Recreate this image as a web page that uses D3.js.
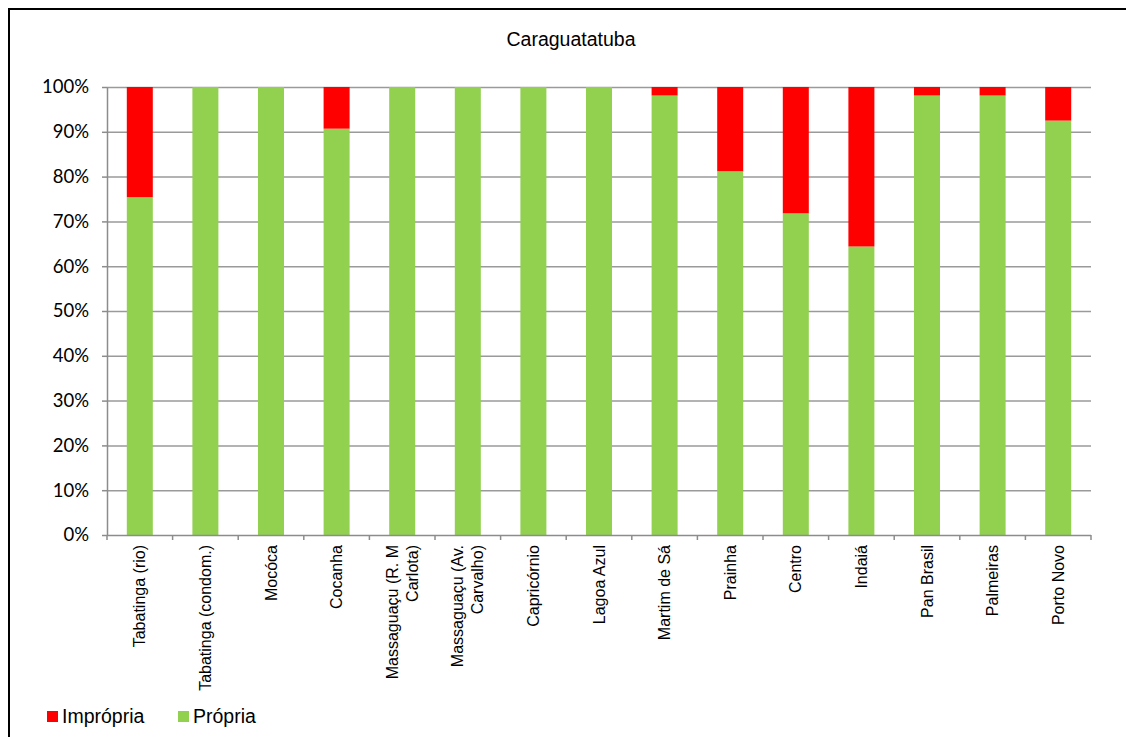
<!DOCTYPE html>
<html>
<head>
<meta charset="utf-8">
<script src="https://cdn.jsdelivr.net/npm/d3@7"></script>
<style>
  body { margin: 0; background: #fff; }
  svg { display: block; }
</style>
</head>
<body>
<svg width="1126" height="737"></svg>
<script>
const categories = [
  ["Tabatinga (rio)"],
  ["Tabatinga (condom.)"],
  ["Mocóca"],
  ["Cocanha"],
  ["Massaguaçu (R. M", "Carlota)"],
  ["Massaguaçu (Av.", "Carvalho)"],
  ["Capricórnio"],
  ["Lagoa Azul"],
  ["Martim de Sá"],
  ["Prainha"],
  ["Centro"],
  ["Indaiá"],
  ["Pan Brasil"],
  ["Palmeiras"],
  ["Porto Novo"],
];
const propria = [75.4, 100, 100, 90.7, 100, 100, 100, 100, 98.1, 81.2, 71.8, 64.4, 98.1, 98.1, 92.5];
const impropria = propria.map((v) => 100 - v);
const yTicks = [0, 10, 20, 30, 40, 50, 60, 70, 80, 90, 100];
const seriesNames = ["Imprópria", "Própria"];

const svg = d3.select("svg");
const plotLeft = 107, plotRight = 1091, plotTop = 87, plotBottom = 535;

// chart frame (only top and left edges visible)
svg.append("line").attr("x1", 9).attr("x2", 1126).attr("y1", 9).attr("y2", 9)
  .attr("stroke", "#000").attr("stroke-width", 2);
svg.append("line").attr("x1", 9).attr("x2", 9).attr("y1", 8).attr("y2", 737)
  .attr("stroke", "#000").attr("stroke-width", 2);

svg.append("text")
  .attr("x", 571).attr("y", 46)
  .attr("text-anchor", "middle")
  .style("font-family", "Liberation Sans, Arial, sans-serif")
  .style("font-size", "19.5px")
  .text("Caraguatatuba");

const xb = d3.scaleBand().domain(d3.range(categories.length)).range([plotLeft, plotRight]);
const y = d3.scaleLinear().domain([0, 100]).range([plotBottom, plotTop]);
const barW = 26;

// gridlines
svg.append("g").selectAll("line").data(yTicks.filter((t) => t > 0)).join("line")
  .attr("x1", plotLeft).attr("x2", plotRight)
  .attr("y1", (d) => y(d) + 0.5).attr("y2", (d) => y(d) + 0.5)
  .attr("stroke", "#9a9a9a").attr("stroke-width", 1.5);

// bars
const g = svg.append("g");
g.selectAll(".prop").data(propria).join("rect")
  .attr("x", (d, i) => xb(i) + xb.bandwidth() / 2 - barW / 2)
  .attr("width", barW)
  .attr("y", (d) => y(d))
  .attr("height", (d) => y(0) - y(d))
  .attr("fill", "#92d050");
g.selectAll(".improp").data(impropria).join("rect")
  .attr("x", (d, i) => xb(i) + xb.bandwidth() / 2 - barW / 2)
  .attr("width", barW)
  .attr("y", (d, i) => y(propria[i] + d))
  .attr("height", (d) => y(0) - y(d))
  .attr("fill", "#ff0000");

// y axis
const yAxis = svg.append("g").attr("transform", `translate(${plotLeft},0)`)
  .call(d3.axisLeft(y).tickValues(yTicks).tickFormat((d) => d + "%").tickSize(5).tickSizeOuter(0));
yAxis.select(".domain").attr("stroke", "#8c8c8c").attr("stroke-width", 1.5);
yAxis.selectAll(".tick line").attr("stroke", "#8c8c8c").attr("stroke-width", 1.5);
yAxis.selectAll("text")
  .attr("x", -18)
  .attr("fill", "#000")
  .style("font-family", "Lato, 'Open Sans', sans-serif")
  .style("font-size", "18.5px");

// x axis
const xAxisG = svg.append("g").attr("transform", `translate(0,${plotBottom})`);
xAxisG.append("line").attr("x1", plotLeft).attr("x2", plotRight).attr("y1", 0.5).attr("y2", 0.5)
  .attr("stroke", "#8c8c8c").attr("stroke-width", 1.5);
xAxisG.selectAll(".xt").data(d3.range(categories.length + 1)).join("line")
  .attr("x1", (d) => plotLeft + d * xb.step()).attr("x2", (d) => plotLeft + d * xb.step())
  .attr("y1", 0).attr("y2", 5)
  .attr("stroke", "#8c8c8c").attr("stroke-width", 1.5);

const labels = xAxisG.selectAll(".xl").data(categories).join("text")
  .attr("transform", (d, i) => `translate(${xb(i) + xb.bandwidth() / 2},10) rotate(-90)`)
  .attr("text-anchor", "end")
  .style("font-family", "Liberation Sans, Arial, sans-serif")
  .style("font-size", "16px");
labels.each(function (d) {
  const t = d3.select(this);
  const n = d.length;
  d.forEach((line, k) => {
    t.append("tspan").attr("x", 0)
      .attr("y", (k - (n - 1) / 2) * 20)
      .attr("dy", "0.35em")
      .text(line);
  });
});

// legend
const colors = ["#ff0000", "#92d050"];
const legendX = [47, 178];
seriesNames.forEach((name, i) => {
  svg.append("rect").attr("x", legendX[i]).attr("y", 711).attr("width", 11).attr("height", 11).attr("fill", colors[i]);
  svg.append("text").attr("x", legendX[i] + 15).attr("y", 723)
    .style("font-family", "Liberation Sans, Arial, sans-serif")
    .style("font-size", "19.5px")
    .text(name);
});
</script>
</body>
</html>
